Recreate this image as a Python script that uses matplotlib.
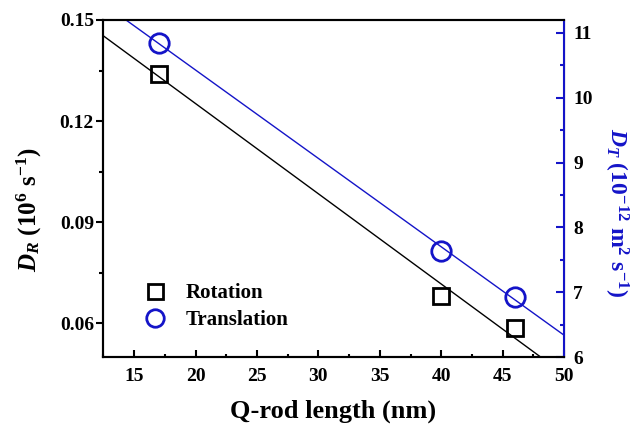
import numpy as np
import matplotlib
matplotlib.use('Agg')
import matplotlib.pyplot as plt
from matplotlib.ticker import MultipleLocator

plt.rcParams['font.family'] = ['Liberation Serif', 'DejaVu Serif']
plt.rcParams['font.weight'] = 'bold'
plt.rcParams['mathtext.fontset'] = 'custom'
plt.rcParams['mathtext.rm'] = 'Liberation Serif:bold'
plt.rcParams['mathtext.bf'] = 'Liberation Serif:bold'
plt.rcParams['mathtext.it'] = 'Liberation Serif:italic:bold'
plt.rcParams['mathtext.bfit'] = 'Liberation Serif:italic:bold'

# --- data ---
length = [17, 40, 46]              # Q-rod length (nm)
rotation = [0.134, 0.068, 0.0585]  # D_R (10^6 s^-1)
translation = [10.85, 7.64, 6.93]  # D_T (10^-12 m^2 s^-1)

BLUE = '#1414c8'

fig = plt.figure(figsize=(6.41, 4.29), dpi=100)
ax = fig.add_axes([0.1607, 0.1678, 0.7193, 0.7856])
ax2 = ax.twinx()

# linear fits drawn across the whole x range
xfit = np.linspace(12.47, 50, 200)
pr = np.polyfit(length, rotation, 1)
pt = np.polyfit(length, translation, 1)

ax.plot(xfit, np.polyval(pr, xfit), color='black', lw=1.0, zorder=2)
ax.plot(length, rotation, ls='none', marker='s', ms=12, mfc='none',
        mec='black', mew=2, zorder=3)
ax2.plot(xfit, np.polyval(pt, xfit), color=BLUE, lw=1.0, zorder=2)
ax2.plot(length, translation, ls='none', marker='o', ms=14, mfc='none',
         mec=BLUE, mew=2, zorder=3)

ax.set_xlim(12.47, 50)
ax.set_ylim(0.05, 0.15)
ax2.set_ylim(6, 11.2)

ax.xaxis.set_major_locator(MultipleLocator(5))
ax.xaxis.set_minor_locator(MultipleLocator(2.5))
ax.set_yticks([0.06, 0.09, 0.12, 0.15])
ax.yaxis.set_minor_locator(MultipleLocator(0.015))
ax2.yaxis.set_major_locator(MultipleLocator(1))
ax2.yaxis.set_minor_locator(MultipleLocator(0.5))

ax.tick_params(axis='x', which='both', direction='in', labelsize=14, width=1.5, pad=8)
ax.tick_params(axis='x', which='major', length=5)
ax.tick_params(axis='x', which='minor', length=2.5)
ax.tick_params(axis='y', which='both', direction='out', labelsize=14, width=1.5, pad=1.5)
ax.tick_params(axis='y', which='major', length=5)
ax.tick_params(axis='y', which='minor', length=3)
ax2.tick_params(axis='y', which='both', direction='in', colors=BLUE,
                labelcolor='black', labelsize=14, width=1.5, pad=6.5)
ax2.tick_params(axis='y', which='major', length=5.5)
ax2.tick_params(axis='y', which='minor', length=3)

for s in ['left', 'bottom', 'top']:
    ax.spines[s].set_linewidth(1.5)
    ax2.spines[s].set_linewidth(1.5)
ax2.spines['right'].set_color(BLUE)
ax2.spines['right'].set_linewidth(1.5)

xl = ax.set_xlabel('Q-rod length (nm)', fontsize=19, fontweight='bold')
ax.xaxis.set_label_coords(0.5, -0.16)
xl.set_va('center')

yl = ax.set_ylabel(r'$\mathbfit{D}_{\mathbfit{R}}$ (10$^{\mathbf{6}}$ s$^{\mathbf{-1}}$)',
                   fontsize=18, fontweight='bold')
ax.yaxis.set_label_coords(-0.16, 0.436)
yl.set_va('center')

yr = ax2.set_ylabel(r'$\mathbfit{D}_{\mathbfit{T}}$ (10$^{\mathbf{-12}}$ m$^{\mathbf{2}}$ s$^{\mathbf{-1}}$)',
                    fontsize=17, fontweight='bold', color=BLUE, rotation=270)
ax2.yaxis.set_label_coords(1.113, 0.43)
yr.set_va('center')

h1 = ax.lines[1]
h2 = ax2.lines[1]
ax.legend([h1, h2], ['Rotation', 'Translation'], loc='center left',
          bbox_to_anchor=(0.046, 0.15), frameon=False, fontsize=15,
          handletextpad=0.83, labelspacing=0.32, handlelength=1.2,
          markerscale=0.9)

fig.savefig('out.png', dpi=100)
